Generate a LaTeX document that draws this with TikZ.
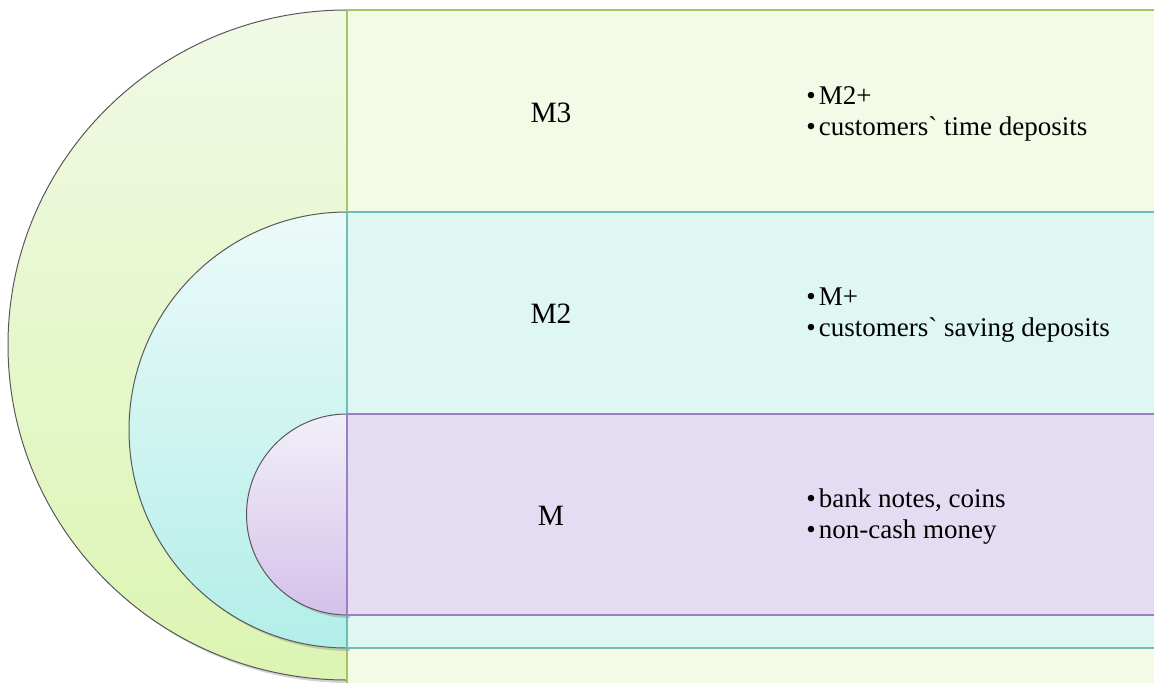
\documentclass[tikz,border=0pt]{standalone}
\usepackage{fontspec}
\setmainfont{Liberation Serif}
\usepackage{xcolor}
\usepackage{tikz}
\usetikzlibrary{shadows}
\definecolor{grntop}{HTML}{F1F9E6}
\definecolor{grnbot}{HTML}{DCF5B2}
\definecolor{grnbox}{HTML}{F3FBE6}
\definecolor{grnline}{HTML}{A6C465}
\definecolor{teltop}{HTML}{EBFAF9}
\definecolor{telbot}{HTML}{B3EEE8}
\definecolor{telbox}{HTML}{DEF7F3}
\definecolor{telline}{HTML}{6CBCB7}
\definecolor{purtop}{HTML}{F2EFF9}
\definecolor{purbot}{HTML}{D4C1EA}
\definecolor{purbox}{HTML}{E4DCF2}
\definecolor{purline}{HTML}{9A7FC1}
\newcommand{\itm}{\textbullet\hspace{1.5pt}}

\begin{document}
\begin{tikzpicture}[x=0.5pt,y=0.5pt,
  hd/.style={draw=black!65,line width=0.5pt,
             drop shadow={opacity=0.35,shadow xshift=1.5pt,shadow yshift=-1.5pt}},
  bx/.style={line width=0.8pt},
  lbl/.style={font=\fontsize{14.75}{17}\selectfont,inner sep=0pt,anchor=base},
  lst/.style={font=\fontsize{13.5}{15.5}\selectfont,align=left,anchor=west,inner sep=0pt}
]
\useasboundingbox (0,0) rectangle (1154,682);
\clip (0,0) rectangle (1154,682);

% outer layer
\draw[hd,top color=grntop,bottom color=grnbot]
  (347,672) arc[start angle=90,end angle=270,x radius=169.5pt,y radius=167.5pt] -- cycle;
\draw[bx,draw=grnline,fill=grnbox] (347,672) rectangle (1160,-4);

% middle layer
\draw[hd,top color=teltop,bottom color=telbot]
  (347,470) arc[start angle=90,end angle=270,radius=109pt] -- cycle;
\draw[bx,draw=telline,fill=telbox] (347,470) rectangle (1160,34);

% inner layer
\draw[hd,top color=purtop,bottom color=purbot]
  (347,268) arc[start angle=90,end angle=270,radius=50.25pt] -- cycle;
\draw[bx,draw=purline,fill=purbox] (347,268) rectangle (1160,67);

\node[lbl] (m3) at (551,560) {M3};
\node[lbl] (m2) at (551,359) {M2};
\node[lbl] (m1) at (551,157) {M};

\node[lst] (m3l) at (806,568) {\itm M2+\\\itm customers\textasciigrave{} time deposits};
\node[lst] (m2l) at (806,366.5) {\itm M+\\\itm customers\textasciigrave{} saving deposits};
\node[lst] (m1l) at (806,165.5) {\itm bank notes, coins\\\itm non-cash money};
\end{tikzpicture}
\end{document}
